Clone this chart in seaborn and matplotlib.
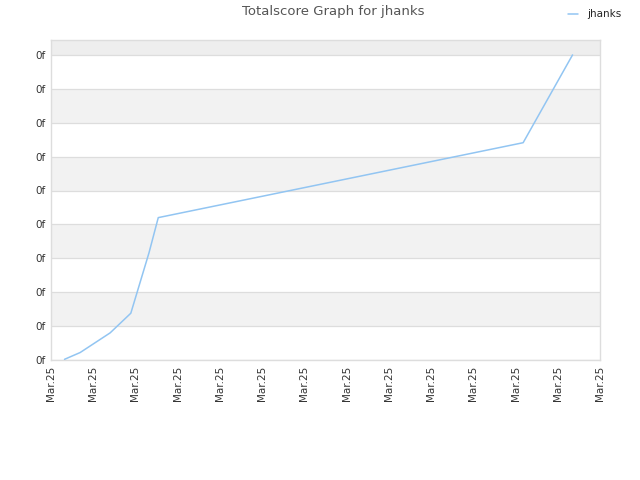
import pandas as pd
import seaborn as sns
import matplotlib
import matplotlib.pyplot as plt
matplotlib.use('Agg')

# totalscore progression (x in tick units, y in grid units)
x_pos = [0.32, 0.69, 1.40, 1.89, 2.32, 2.54, 11.18, 12.35]
scores = [0.02, 0.22, 0.80, 1.38, 3.16, 4.20, 6.41, 9.00]
x_labels = ["Mar.25"] * 14
y_labels = ["0f"] * 10
player = "jhanks"

df = pd.DataFrame({"x": x_pos, "score": scores, "player": player})

sns.set_theme(style="white")
plt.rcParams['font.family'] = ['DejaVu Sans']

fig = plt.figure(figsize=(6.4, 4.8), dpi=100)
ax = fig.add_axes([51 / 640, 1 - 360 / 480, 549 / 640, 320 / 480])

ymax = 320 / 33.9
# alternating bands
ax.axhspan(9, ymax, color="#eeeeee", lw=0, zorder=0)
for i in range(0, 9):
    if i % 2 == 1:
        ax.axhspan(i, i + 1, color="#f2f2f2", lw=0, zorder=0)

sns.lineplot(data=df, x="x", y="score", hue="player", palette=["#92c5f2"],
             linewidth=1.1, ax=ax, zorder=3)

ax.set_xlim(0, len(x_labels) - 1)
ax.set_ylim(0, ymax)
ax.set_xticks(range(len(x_labels)))
ax.set_xticklabels(x_labels, rotation=90, fontsize=7.5, color="#333333")
ax.set_yticks(range(len(y_labels)))
ax.set_yticklabels(y_labels, fontsize=7.5, color="#333333")
ax.grid(axis="y", color="#dddddd", linewidth=0.9, zorder=1)
ax.set_axisbelow(True)
ax.tick_params(axis="both", length=0, pad=4)
ax.set_xlabel("")
ax.set_ylabel("")
for s in ax.spines.values():
    s.set_color("#dddddd")
    s.set_linewidth(1)

fig.suptitle("Totalscore Graph for jhanks", x=0.52, y=0.99, fontsize=9.5, color="#555555")
ax.legend(loc="upper right", bbox_to_anchor=(0.985, 1.0), bbox_transform=fig.transFigure,
          frameon=False, fontsize=7.5, handlelength=1.0, handletextpad=0.8)

fig.savefig("out.png", dpi=100)
